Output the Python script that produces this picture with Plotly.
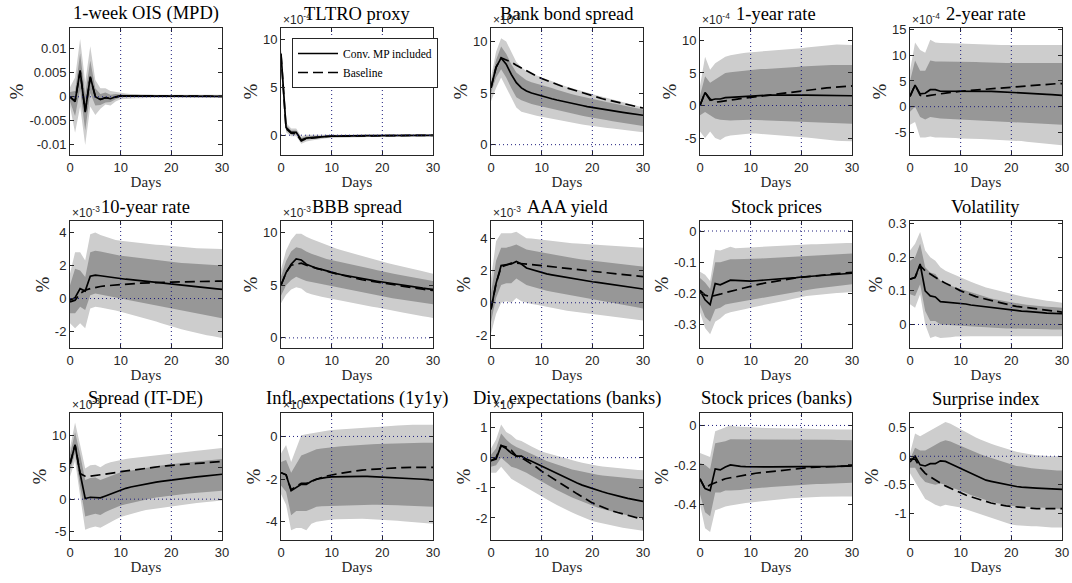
import plotly.graph_objects as go

DAYS = list(range(31))

# ---------------- 1-week OIS (MPD)
ois_irf = [0.0, -0.001, 0.0055, -0.0032, 0.0042, 0.0, -0.0006, -0.0002, -0.0004, 0.0, 0.0002, 0.0002, 0.0002, 0.0002, 0.0002, 0.00015, 0.00015, 0.00015, 0.00012, 0.00012, 0.0001, 0.0001, 0.0001, 0.0001, 0.0001, 0.0001, 0.0001, 0.0001, 0.0001, 0.0001, 0.0001]
ois_base = [0.0, -0.0009, 0.0053, -0.003, 0.004, 0.0001, -0.0005, -0.0002, -0.0003, 0.0, 0.0002, 0.0002, 0.0002, 0.0002, 0.0002, 0.00015, 0.00015, 0.00015, 0.00012, 0.00012, 0.0001, 0.0001, 0.0001, 0.0001, 0.0001, 0.0001, 0.0001, 0.0001, 0.0001, 0.0001, 0.0001]
ois_hi90 = [0.002, 0.004, 0.012, 0.003, 0.0105, 0.0035, 0.0018, 0.0018, 0.0012, 0.001, 0.0008, 0.0007, 0.0006, 0.0006, 0.0005, 0.0005, 0.0005, 0.0004, 0.0004, 0.0004, 0.0004, 0.0004, 0.0004, 0.0004, 0.0004, 0.0004, 0.0004, 0.0004, 0.0004, 0.0004, 0.0004]
ois_lo90 = [-0.002, -0.0075, -0.002, -0.01, -0.002, -0.0038, -0.0025, -0.0016, -0.0018, -0.001, -0.0005, -0.0004, -0.0003, -0.0003, -0.0003, -0.0002, -0.0002, -0.0002, -0.0002, -0.0002, -0.0002, -0.0002, -0.0002, -0.0002, -0.0002, -0.0002, -0.0002, -0.0002, -0.0002, -0.0002, -0.0002]
ois_hi68 = [0.001, 0.0012, 0.009, 0.0005, 0.0075, 0.0018, 0.0006, 0.0009, 0.0004, 0.0006, 0.0005, 0.0004, 0.0004, 0.0004, 0.0003, 0.0003, 0.0003, 0.0003, 0.0003, 0.0003, 0.0003, 0.0002, 0.0002, 0.0002, 0.0002, 0.0002, 0.0002, 0.0002, 0.0002, 0.0002, 0.0002]
ois_lo68 = [-0.001, -0.004, 0.0015, -0.007, 0.0008, -0.0018, -0.0017, -0.0012, -0.0011, -0.0005, -0.0001, 0.0, 0.0, 0.0, 0.0, 0.0, 0.0, 0.0, 0.0, 0.0, 0.0, 0.0, 0.0, 0.0, 0.0, 0.0, 0.0, 0.0, 0.0, 0.0, 0.0]

# ---------------- TLTRO proxy (x1e-4)
tl_irf = [8.5, 0.8, 0.3, 0.3, -0.5, -0.3, -0.25, -0.2, -0.15, -0.12, -0.1, -0.1, -0.08, -0.08, -0.07, -0.06, -0.05, -0.05, -0.04, -0.04, -0.03, -0.03, -0.03, -0.02, -0.02, -0.02, -0.02, -0.01, -0.01, -0.01, -0.01]
tl_base = [8.4, 0.7, 0.2, 0.15, -0.6, -0.35, -0.3, -0.22, -0.17, -0.13, -0.11, -0.1, -0.09, -0.08, -0.07, -0.06, -0.05, -0.05, -0.04, -0.04, -0.03, -0.03, -0.03, -0.02, -0.02, -0.02, -0.02, -0.01, -0.01, -0.01, -0.01]
tl_hi90 = [9.0, 1.3, 0.7, 0.7, -0.1, 0.05, 0.05, 0.05, 0.08, 0.08, 0.1, 0.1, 0.1, 0.1, 0.1, 0.1, 0.1, 0.1, 0.1, 0.1, 0.1, 0.1, 0.1, 0.1, 0.1, 0.1, 0.1, 0.1, 0.1, 0.1, 0.1]
tl_lo90 = [8.0, 0.3, -0.1, -0.1, -0.9, -0.65, -0.55, -0.45, -0.38, -0.32, -0.3, -0.28, -0.26, -0.24, -0.22, -0.2, -0.19, -0.18, -0.17, -0.16, -0.15, -0.14, -0.14, -0.13, -0.13, -0.12, -0.12, -0.12, -0.11, -0.11, -0.11]
tl_hi68 = [8.8, 1.05, 0.5, 0.5, -0.3, -0.12, -0.1, -0.08, -0.04, -0.03, -0.02, -0.02, -0.01, -0.01, 0.0, 0.0, 0.0, 0.0, 0.0, 0.0, 0.0, 0.0, 0.0, 0.01, 0.01, 0.01, 0.01, 0.02, 0.02, 0.02, 0.02]
tl_lo68 = [8.2, 0.55, 0.1, 0.1, -0.7, -0.48, -0.4, -0.32, -0.26, -0.21, -0.18, -0.17, -0.15, -0.14, -0.13, -0.12, -0.1, -0.1, -0.09, -0.08, -0.07, -0.06, -0.06, -0.05, -0.05, -0.05, -0.05, -0.04, -0.04, -0.04, -0.04]

# ---------------- Bank bond spread (x1e-3)
bb_irf = [5.5, 7.5, 8.4, 7.8, 6.8, 6.0, 5.5, 5.2, 5.0, 4.85, 4.7, 4.57, 4.45, 4.33, 4.21, 4.1, 3.99, 3.89, 3.79, 3.69, 3.6, 3.51, 3.43, 3.35, 3.27, 3.2, 3.13, 3.06, 2.99, 2.92, 2.85]
bb_base = [5.5, 7.5, 8.4, 8.2, 8.0, 7.7, 7.42, 7.15, 6.88, 6.63, 6.4, 6.2, 6.01, 5.83, 5.66, 5.5, 5.34, 5.18, 5.02, 4.86, 4.7, 4.57, 4.45, 4.33, 4.22, 4.1, 3.99, 3.88, 3.77, 3.66, 3.55]
bb_hi90 = [6.5, 9.0, 10.3, 10.0, 9.0, 8.0, 7.5, 7.1, 6.9, 6.7, 6.5, 6.31, 6.13, 5.95, 5.77, 5.6, 5.45, 5.31, 5.17, 5.03, 4.9, 4.77, 4.64, 4.51, 4.38, 4.25, 4.12, 3.99, 3.86, 3.73, 3.6]
bb_lo90 = [4.2, 5.5, 6.5, 5.5, 4.5, 3.6, 3.2, 3.05, 2.9, 2.8, 2.7, 2.6, 2.5, 2.4, 2.3, 2.2, 2.12, 2.04, 1.96, 1.88, 1.8, 1.74, 1.68, 1.62, 1.56, 1.5, 1.44, 1.38, 1.32, 1.26, 1.2]
bb_hi68 = [6.0, 8.2, 9.5, 8.8, 7.8, 7.0, 6.6, 6.25, 6.05, 5.92, 5.8, 5.64, 5.48, 5.32, 5.16, 5.0, 4.88, 4.76, 4.64, 4.52, 4.4, 4.3, 4.2, 4.1, 4.0, 3.9, 3.8, 3.7, 3.6, 3.5, 3.4]
bb_lo68 = [5.0, 6.5, 7.3, 6.5, 5.5, 4.6, 4.3, 4.1, 3.95, 3.82, 3.7, 3.58, 3.46, 3.34, 3.22, 3.1, 3.0, 2.9, 2.8, 2.7, 2.6, 2.52, 2.44, 2.36, 2.28, 2.2, 2.12, 2.04, 1.96, 1.88, 1.8]

# ---------------- 1-year rate (x1e-4)
y1_irf = [0.0, 2.0, 0.8, 1.0, 1.0, 1.2, 1.25, 1.3, 1.38, 1.45, 1.5, 1.52, 1.55, 1.57, 1.58, 1.6, 1.6, 1.61, 1.61, 1.6, 1.6, 1.6, 1.59, 1.58, 1.57, 1.56, 1.55, 1.54, 1.53, 1.51, 1.5]
y1_base = [0.0, 2.0, 1.0, 0.5, 0.6, 0.75, 0.85, 0.95, 1.05, 1.15, 1.3, 1.4, 1.5, 1.6, 1.7, 1.8, 1.9, 2.0, 2.1, 2.2, 2.3, 2.38, 2.46, 2.54, 2.62, 2.7, 2.76, 2.82, 2.88, 2.94, 3.0]
y1_hi90 = [3.0, 7.5, 5.5, 6.5, 7.0, 7.5, 7.7, 7.9, 8.0, 8.1, 8.2, 8.25, 8.3, 8.35, 8.4, 8.5, 8.55, 8.6, 8.65, 8.7, 8.8, 8.9, 9.0, 9.1, 9.2, 9.3, 9.3, 9.35, 9.35, 9.3, 9.3]
y1_lo90 = [-4.0, -5.0, -4.0, -5.0, -5.3, -4.8, -4.6, -4.5, -4.4, -4.35, -4.3, -4.3, -4.35, -4.4, -4.45, -4.5, -4.55, -4.6, -4.65, -4.7, -4.8, -4.9, -5.0, -5.1, -5.2, -5.3, -5.35, -5.4, -5.45, -5.5, -5.5]
y1_hi68 = [1.5, 4.5, 3.5, 4.0, 4.6, 5.0, 5.1, 5.2, 5.3, 5.4, 5.5, 5.55, 5.6, 5.62, 5.65, 5.7, 5.75, 5.8, 5.85, 5.9, 6.0, 6.05, 6.1, 6.12, 6.15, 6.2, 6.2, 6.2, 6.2, 6.2, 6.2]
y1_lo68 = [-1.5, -1.0, -1.5, -2.0, -2.2, -2.3, -2.3, -2.25, -2.2, -2.2, -2.2, -2.22, -2.25, -2.28, -2.3, -2.33, -2.36, -2.4, -2.43, -2.46, -2.5, -2.53, -2.56, -2.6, -2.63, -2.66, -2.7, -2.73, -2.76, -2.78, -2.8]

# ---------------- 2-year rate (x1e-4)
y2_irf = [2.0, 4.2, 2.5, 2.6, 3.3, 3.3, 3.0, 3.0, 3.05, 3.1, 3.1, 3.1, 3.08, 3.06, 3.03, 3.0, 2.97, 2.94, 2.9, 2.86, 2.8, 2.75, 2.7, 2.65, 2.58, 2.5, 2.45, 2.4, 2.33, 2.27, 2.2]
y2_base = [2.0, 4.2, 2.2, 2.0, 2.2, 2.4, 2.5, 2.65, 2.8, 2.9, 3.0, 3.08, 3.16, 3.24, 3.32, 3.4, 3.5, 3.6, 3.7, 3.8, 3.9, 3.98, 4.06, 4.14, 4.22, 4.3, 4.35, 4.4, 4.44, 4.48, 4.5]
y2_hi90 = [7.0, 12.5, 11.0, 10.5, 13.0, 12.5, 12.4, 12.4, 12.3, 12.3, 12.3, 12.25, 12.2, 12.2, 12.15, 12.1, 12.1, 12.05, 12.0, 12.0, 12.0, 12.0, 12.0, 12.0, 12.0, 12.0, 12.0, 12.0, 12.0, 12.0, 12.0]
y2_lo90 = [-3.5, -3.0, -6.0, -6.0, -5.8, -6.0, -6.0, -6.0, -6.1, -6.1, -6.2, -6.2, -6.25, -6.3, -6.3, -6.35, -6.4, -6.4, -6.45, -6.5, -6.5, -6.6, -6.7, -6.8, -6.9, -7.0, -7.1, -7.2, -7.3, -7.4, -7.5]
y2_hi68 = [5.0, 9.0, 7.0, 7.0, 9.0, 8.8, 8.8, 8.8, 8.8, 8.8, 8.8, 8.75, 8.7, 8.7, 8.65, 8.6, 8.6, 8.6, 8.55, 8.5, 8.5, 8.5, 8.5, 8.5, 8.5, 8.5, 8.5, 8.5, 8.5, 8.5, 8.5]
y2_lo68 = [-1.0, 0.0, -2.0, -2.5, -2.0, -2.2, -2.3, -2.35, -2.4, -2.45, -2.5, -2.55, -2.6, -2.65, -2.7, -2.75, -2.8, -2.85, -2.9, -2.95, -3.0, -3.05, -3.1, -3.15, -3.2, -3.25, -3.3, -3.35, -3.4, -3.45, -3.5]

# ---------------- 10-year rate (x1e-3)
y10_irf = [-0.1, 0.05, 0.6, 0.45, 1.35, 1.42, 1.38, 1.33, 1.28, 1.24, 1.2, 1.17, 1.14, 1.11, 1.08, 1.05, 1.02, 0.99, 0.96, 0.93, 0.9, 0.87, 0.84, 0.81, 0.78, 0.75, 0.71, 0.67, 0.63, 0.59, 0.55]
y10_base = [-0.2, -0.1, 0.3, 0.5, 0.6, 0.68, 0.73, 0.77, 0.8, 0.83, 0.85, 0.87, 0.89, 0.91, 0.93, 0.95, 0.96, 0.97, 0.98, 0.99, 1.0, 1.01, 1.02, 1.03, 1.04, 1.05, 1.05, 1.05, 1.05, 1.05, 1.05]
y10_hi90 = [1.5, 2.8, 2.8, 2.3, 3.9, 4.0, 3.85, 3.75, 3.65, 3.55, 3.5, 3.46, 3.42, 3.38, 3.34, 3.3, 3.28, 3.26, 3.24, 3.22, 3.2, 3.17, 3.14, 3.11, 3.08, 3.05, 3.04, 3.03, 3.02, 3.01, 3.0]
y10_lo90 = [-1.5, -1.8, -1.5, -1.8, -0.6, -0.5, -0.55, -0.6, -0.65, -0.72, -0.8, -0.88, -0.96, -1.04, -1.12, -1.2, -1.3, -1.4, -1.5, -1.6, -1.7, -1.78, -1.86, -1.94, -2.02, -2.1, -2.16, -2.22, -2.28, -2.34, -2.4]
y10_hi68 = [0.8, 1.8, 1.7, 1.3, 2.8, 2.9, 2.85, 2.78, 2.7, 2.65, 2.6, 2.56, 2.52, 2.48, 2.44, 2.4, 2.36, 2.32, 2.28, 2.24, 2.2, 2.18, 2.16, 2.14, 2.12, 2.1, 2.08, 2.06, 2.04, 2.02, 2.0]
y10_lo68 = [-0.9, -0.9, -0.5, -0.7, 0.2, 0.3, 0.25, 0.18, 0.12, 0.06, 0.0, -0.06, -0.12, -0.18, -0.24, -0.3, -0.36, -0.42, -0.48, -0.54, -0.6, -0.66, -0.72, -0.78, -0.84, -0.9, -0.96, -1.02, -1.08, -1.14, -1.2]

# ---------------- BBB spread (x1e-3)
bbb_irf = [5.0, 6.2, 7.0, 7.5, 7.4, 7.0, 6.8, 6.6, 6.5, 6.35, 6.2, 6.1, 6.0, 5.9, 5.8, 5.7, 5.62, 5.54, 5.46, 5.38, 5.3, 5.22, 5.14, 5.06, 4.98, 4.9, 4.84, 4.78, 4.72, 4.66, 4.6]
bbb_base = [5.0, 6.2, 6.9, 7.0, 7.1, 6.9, 6.75, 6.6, 6.45, 6.32, 6.2, 6.08, 5.96, 5.84, 5.72, 5.6, 5.52, 5.44, 5.36, 5.28, 5.2, 5.12, 5.04, 4.96, 4.88, 4.8, 4.74, 4.68, 4.62, 4.56, 4.5]
bbb_hi90 = [6.5, 8.3, 9.3, 9.9, 9.9, 9.6, 9.4, 9.2, 9.0, 8.8, 8.6, 8.46, 8.32, 8.18, 8.04, 7.9, 7.76, 7.62, 7.48, 7.34, 7.2, 7.1, 7.0, 6.9, 6.8, 6.7, 6.58, 6.46, 6.34, 6.22, 6.1]
bbb_lo90 = [3.3, 4.1, 4.6, 4.8, 4.7, 4.3, 4.15, 4.0, 3.9, 3.8, 3.7, 3.6, 3.5, 3.4, 3.3, 3.2, 3.12, 3.04, 2.96, 2.88, 2.8, 2.7, 2.6, 2.5, 2.4, 2.3, 2.22, 2.14, 2.06, 1.98, 1.9]
bbb_hi68 = [5.8, 7.3, 8.2, 8.6, 8.5, 8.2, 8.0, 7.8, 7.65, 7.5, 7.4, 7.3, 7.2, 7.1, 7.0, 6.9, 6.78, 6.66, 6.54, 6.42, 6.3, 6.21, 6.12, 6.03, 5.94, 5.85, 5.76, 5.67, 5.58, 5.49, 5.4]
bbb_lo68 = [4.0, 5.0, 5.5, 5.8, 5.6, 5.4, 5.3, 5.2, 5.1, 5.0, 4.9, 4.8, 4.7, 4.6, 4.5, 4.4, 4.3, 4.2, 4.1, 4.0, 3.9, 3.83, 3.76, 3.69, 3.62, 3.55, 3.48, 3.41, 3.34, 3.27, 3.2]

# ---------------- AAA yield (x1e-3)
aaa_irf = [-0.4, 1.2, 2.3, 2.35, 2.4, 2.55, 2.4, 2.15, 2.05, 1.95, 1.85, 1.79, 1.73, 1.67, 1.61, 1.55, 1.5, 1.45, 1.4, 1.35, 1.3, 1.26, 1.22, 1.18, 1.14, 1.1, 1.05, 1.0, 0.95, 0.9, 0.85]
aaa_base = [-0.4, 1.2, 2.2, 2.35, 2.45, 2.45, 2.43, 2.4, 2.37, 2.33, 2.3, 2.27, 2.24, 2.21, 2.18, 2.15, 2.11, 2.07, 2.03, 1.99, 1.95, 1.92, 1.89, 1.86, 1.83, 1.8, 1.76, 1.72, 1.69, 1.65, 1.62]
aaa_hi90 = [1.5, 3.8, 4.3, 4.3, 4.3, 4.4, 4.2, 4.0, 3.97, 3.93, 3.9, 3.86, 3.82, 3.78, 3.74, 3.7, 3.68, 3.66, 3.64, 3.62, 3.6, 3.58, 3.56, 3.54, 3.52, 3.5, 3.48, 3.46, 3.44, 3.42, 3.4]
aaa_lo90 = [-1.9, -0.7, 0.0, 0.1, 0.0, 0.3, 0.1, 0.0, -0.07, -0.13, -0.2, -0.26, -0.32, -0.38, -0.44, -0.5, -0.54, -0.58, -0.62, -0.66, -0.7, -0.74, -0.78, -0.82, -0.86, -0.9, -0.94, -0.98, -1.02, -1.06, -1.1]
aaa_hi68 = [0.6, 2.6, 3.4, 3.4, 3.5, 3.6, 3.45, 3.3, 3.23, 3.17, 3.1, 3.04, 2.98, 2.92, 2.86, 2.8, 2.76, 2.72, 2.68, 2.64, 2.6, 2.56, 2.52, 2.48, 2.44, 2.4, 2.37, 2.34, 2.31, 2.28, 2.25]
aaa_lo68 = [-1.2, 0.3, 1.1, 1.2, 1.2, 1.5, 1.3, 1.1, 1.0, 0.9, 0.8, 0.74, 0.68, 0.62, 0.56, 0.5, 0.44, 0.38, 0.32, 0.26, 0.2, 0.14, 0.08, 0.02, -0.04, -0.1, -0.15, -0.2, -0.25, -0.3, -0.35]

# ---------------- Stock prices
sp_irf = [-0.19, -0.22, -0.235, -0.168, -0.172, -0.165, -0.157, -0.158, -0.159, -0.16, -0.16, -0.159, -0.158, -0.157, -0.156, -0.155, -0.153, -0.152, -0.15, -0.149, -0.147, -0.146, -0.145, -0.143, -0.142, -0.141, -0.14, -0.139, -0.137, -0.136, -0.135]
sp_base = [-0.19, -0.205, -0.21, -0.207, -0.202, -0.197, -0.193, -0.188, -0.184, -0.179, -0.175, -0.172, -0.169, -0.166, -0.163, -0.16, -0.158, -0.155, -0.153, -0.15, -0.148, -0.146, -0.144, -0.142, -0.141, -0.14, -0.138, -0.136, -0.135, -0.133, -0.132]
sp_hi90 = [-0.13, -0.14, -0.16, -0.06, -0.062, -0.055, -0.05, -0.055, -0.054, -0.053, -0.052, -0.051, -0.05, -0.05, -0.049, -0.048, -0.047, -0.046, -0.046, -0.045, -0.044, -0.043, -0.042, -0.042, -0.041, -0.04, -0.04, -0.039, -0.039, -0.038, -0.038]
sp_lo90 = [-0.26, -0.31, -0.33, -0.29, -0.28, -0.265, -0.26, -0.257, -0.253, -0.249, -0.245, -0.242, -0.239, -0.236, -0.233, -0.23, -0.226, -0.222, -0.218, -0.214, -0.21, -0.208, -0.206, -0.204, -0.202, -0.2, -0.199, -0.198, -0.197, -0.196, -0.195]
sp_hi68 = [-0.15, -0.165, -0.185, -0.1, -0.1, -0.095, -0.09, -0.09, -0.09, -0.09, -0.09, -0.089, -0.088, -0.087, -0.086, -0.085, -0.084, -0.083, -0.082, -0.081, -0.08, -0.079, -0.078, -0.077, -0.076, -0.075, -0.075, -0.074, -0.073, -0.073, -0.072]
sp_lo68 = [-0.235, -0.275, -0.29, -0.25, -0.245, -0.235, -0.232, -0.229, -0.226, -0.223, -0.22, -0.217, -0.214, -0.211, -0.208, -0.205, -0.202, -0.199, -0.196, -0.193, -0.19, -0.188, -0.186, -0.184, -0.182, -0.18, -0.178, -0.176, -0.174, -0.172, -0.17]

# ---------------- Volatility
vol_irf = [0.135, 0.14, 0.18, 0.1, 0.085, 0.082, 0.068, 0.067, 0.066, 0.064, 0.063, 0.061, 0.058, 0.056, 0.054, 0.052, 0.05, 0.048, 0.046, 0.044, 0.042, 0.041, 0.04, 0.039, 0.037, 0.036, 0.035, 0.034, 0.033, 0.033, 0.032]
vol_base = [0.135, 0.14, 0.175, 0.16, 0.15, 0.14, 0.131, 0.123, 0.115, 0.107, 0.1, 0.094, 0.088, 0.083, 0.079, 0.075, 0.071, 0.067, 0.063, 0.06, 0.057, 0.054, 0.052, 0.049, 0.047, 0.045, 0.043, 0.041, 0.039, 0.038, 0.037]
vol_hi90 = [0.22, 0.24, 0.275, 0.22, 0.2, 0.19, 0.17, 0.16, 0.153, 0.146, 0.14, 0.133, 0.127, 0.121, 0.115, 0.11, 0.106, 0.102, 0.098, 0.094, 0.09, 0.087, 0.084, 0.081, 0.078, 0.075, 0.073, 0.071, 0.069, 0.067, 0.065]
vol_lo90 = [0.06, 0.05, 0.09, 0.0, -0.04, -0.035, -0.04, -0.04, -0.038, -0.036, -0.035, -0.035, -0.035, -0.035, -0.035, -0.035, -0.034, -0.034, -0.034, -0.033, -0.033, -0.033, -0.033, -0.033, -0.033, -0.033, -0.034, -0.034, -0.034, -0.035, -0.035]
vol_hi68 = [0.19, 0.2, 0.24, 0.17, 0.155, 0.15, 0.13, 0.12, 0.115, 0.11, 0.105, 0.1, 0.095, 0.09, 0.085, 0.08, 0.077, 0.074, 0.071, 0.068, 0.065, 0.063, 0.061, 0.059, 0.057, 0.055, 0.054, 0.053, 0.052, 0.051, 0.05]
vol_lo68 = [0.09, 0.085, 0.12, 0.04, 0.01, 0.01, 0.0, -0.001, -0.002, -0.004, -0.005, -0.006, -0.007, -0.008, -0.009, -0.01, -0.01, -0.011, -0.011, -0.012, -0.012, -0.012, -0.013, -0.013, -0.013, -0.014, -0.014, -0.014, -0.015, -0.015, -0.015]

# ---------------- Spread (IT-DE) (x1e-3)
itde_irf = [5.5, 8.5, 4.0, 0.1, 0.3, 0.3, 0.2, 0.5, 0.8, 1.15, 1.5, 1.7, 1.9, 2.07, 2.24, 2.4, 2.53, 2.66, 2.78, 2.9, 3.0, 3.1, 3.2, 3.3, 3.4, 3.5, 3.58, 3.66, 3.74, 3.82, 3.9]
itde_base = [5.5, 8.5, 4.0, 3.6, 3.6, 3.7, 3.75, 3.85, 4.0, 4.15, 4.3, 4.42, 4.54, 4.66, 4.78, 4.9, 4.98, 5.06, 5.14, 5.22, 5.3, 5.36, 5.42, 5.48, 5.54, 5.6, 5.66, 5.72, 5.78, 5.84, 5.9]
itde_hi90 = [8.0, 12.0, 8.5, 4.8, 5.3, 5.4, 5.0, 5.5, 5.8, 6.0, 6.2, 6.3, 6.4, 6.5, 6.6, 6.7, 6.8, 6.9, 7.0, 7.1, 7.2, 7.28, 7.36, 7.44, 7.52, 7.6, 7.68, 7.76, 7.84, 7.92, 8.0]
itde_lo90 = [3.5, 6.0, 0.5, -4.8, -4.5, -4.3, -4.5, -4.0, -3.6, -3.2, -2.8, -2.55, -2.3, -2.1, -1.9, -1.7, -1.58, -1.46, -1.34, -1.22, -1.1, -1.0, -0.9, -0.8, -0.7, -0.6, -0.52, -0.44, -0.36, -0.28, -0.2]
itde_hi68 = [7.0, 10.5, 7.0, 3.0, 3.3, 3.4, 3.0, 3.3, 3.6, 3.9, 4.2, 4.35, 4.5, 4.65, 4.8, 4.9, 5.02, 5.14, 5.26, 5.38, 5.5, 5.58, 5.66, 5.74, 5.82, 5.9, 5.98, 6.06, 6.14, 6.22, 6.3]
itde_lo68 = [4.5, 7.2, 2.0, -2.7, -2.5, -2.3, -2.5, -2.0, -1.65, -1.3, -1.0, -0.8, -0.6, -0.4, -0.2, 0.0, 0.12, 0.24, 0.36, 0.48, 0.6, 0.68, 0.76, 0.84, 0.92, 1.0, 1.06, 1.12, 1.18, 1.24, 1.3]

# ---------------- Infl. expectations (1y1y) (x1e-3)
inf_irf = [-1.7, -1.8, -2.55, -2.4, -2.25, -2.25, -2.1, -2.0, -1.95, -1.92, -1.9, -1.89, -1.88, -1.88, -1.87, -1.87, -1.87, -1.87, -1.88, -1.89, -1.9, -1.91, -1.92, -1.93, -1.94, -1.95, -1.97, -1.99, -2.01, -2.03, -2.05]
inf_base = [-1.7, -1.8, -2.5, -2.35, -2.2, -2.2, -2.1, -2.0, -1.93, -1.86, -1.8, -1.76, -1.72, -1.68, -1.64, -1.6, -1.58, -1.56, -1.54, -1.52, -1.5, -1.49, -1.48, -1.47, -1.46, -1.45, -1.45, -1.45, -1.45, -1.45, -1.45]
inf_hi90 = [-0.8, -0.4, -1.2, -0.6, 0.05, 0.1, 0.15, 0.2, 0.23, 0.27, 0.3, 0.32, 0.34, 0.36, 0.38, 0.4, 0.41, 0.42, 0.43, 0.44, 0.45, 0.47, 0.49, 0.51, 0.53, 0.55, 0.55, 0.55, 0.55, 0.55, 0.55]
inf_lo90 = [-2.7, -3.2, -4.4, -4.3, -4.3, -4.4, -4.1, -4.0, -3.97, -3.93, -3.9, -3.89, -3.88, -3.87, -3.86, -3.85, -3.86, -3.87, -3.88, -3.89, -3.9, -3.92, -3.94, -3.96, -3.98, -4.0, -4.02, -4.04, -4.06, -4.08, -4.1]
inf_hi68 = [-1.2, -1.1, -1.7, -1.3, -0.9, -0.8, -0.7, -0.6, -0.57, -0.53, -0.5, -0.48, -0.46, -0.44, -0.42, -0.4, -0.39, -0.38, -0.37, -0.36, -0.35, -0.34, -0.33, -0.32, -0.31, -0.3, -0.3, -0.3, -0.3, -0.3, -0.3]
inf_lo68 = [-2.3, -2.6, -3.7, -3.5, -3.5, -3.5, -3.4, -3.3, -3.28, -3.27, -3.25, -3.24, -3.23, -3.22, -3.21, -3.2, -3.2, -3.2, -3.2, -3.2, -3.2, -3.21, -3.22, -3.23, -3.24, -3.25, -3.26, -3.27, -3.28, -3.29, -3.3]

# ---------------- Div. expectations (banks) (x1e-1)
div_irf = [-0.1, -0.05, 0.4, 0.3, 0.15, 0.05, 0.05, -0.05, -0.12, -0.2, -0.3, -0.38, -0.46, -0.54, -0.62, -0.7, -0.77, -0.84, -0.91, -0.97, -1.03, -1.08, -1.13, -1.18, -1.23, -1.27, -1.31, -1.35, -1.39, -1.42, -1.45]
div_base = [-0.1, 0.0, 0.4, 0.35, 0.25, 0.05, 0.0, -0.1, -0.2, -0.32, -0.45, -0.56, -0.67, -0.78, -0.89, -1.0, -1.1, -1.2, -1.3, -1.4, -1.5, -1.57, -1.64, -1.71, -1.77, -1.82, -1.87, -1.92, -1.96, -2.0, -2.03]
div_hi90 = [0.3, 0.6, 1.1, 0.85, 0.75, 0.6, 0.55, 0.45, 0.37, 0.29, 0.2, 0.15, 0.1, 0.05, 0.0, -0.05, -0.09, -0.13, -0.17, -0.21, -0.25, -0.27, -0.29, -0.31, -0.33, -0.35, -0.36, -0.38, -0.39, -0.41, -0.42]
div_lo90 = [-0.5, -0.5, -0.3, -0.5, -0.7, -0.8, -0.9, -1.0, -1.1, -1.2, -1.3, -1.39, -1.48, -1.57, -1.66, -1.75, -1.82, -1.89, -1.96, -2.03, -2.1, -2.14, -2.18, -2.22, -2.26, -2.3, -2.32, -2.35, -2.37, -2.4, -2.42]
div_hi68 = [0.1, 0.3, 0.8, 0.6, 0.45, 0.35, 0.28, 0.2, 0.12, 0.04, -0.05, -0.11, -0.17, -0.23, -0.29, -0.35, -0.39, -0.43, -0.47, -0.51, -0.55, -0.57, -0.59, -0.61, -0.63, -0.65, -0.66, -0.68, -0.69, -0.71, -0.72]
div_lo68 = [-0.3, -0.25, 0.0, -0.15, -0.3, -0.35, -0.42, -0.5, -0.6, -0.7, -0.8, -0.89, -0.98, -1.07, -1.16, -1.25, -1.32, -1.39, -1.46, -1.53, -1.6, -1.65, -1.7, -1.75, -1.8, -1.85, -1.88, -1.91, -1.94, -1.97, -2.0]

# ---------------- Stock prices (banks)
sb_irf = [-0.27, -0.32, -0.33, -0.22, -0.225, -0.21, -0.2, -0.205, -0.207, -0.209, -0.21, -0.21, -0.21, -0.21, -0.21, -0.21, -0.21, -0.21, -0.21, -0.21, -0.21, -0.21, -0.21, -0.209, -0.209, -0.208, -0.208, -0.207, -0.206, -0.206, -0.205]
sb_base = [-0.27, -0.32, -0.3, -0.29, -0.28, -0.27, -0.265, -0.26, -0.255, -0.25, -0.245, -0.242, -0.239, -0.236, -0.233, -0.23, -0.227, -0.224, -0.221, -0.218, -0.215, -0.213, -0.212, -0.211, -0.21, -0.209, -0.208, -0.207, -0.206, -0.206, -0.205]
sb_hi90 = [-0.14, -0.15, -0.16, -0.03, -0.02, -0.01, 0.0, -0.005, -0.007, -0.009, -0.01, -0.011, -0.012, -0.013, -0.014, -0.015, -0.015, -0.015, -0.015, -0.015, -0.015, -0.016, -0.017, -0.018, -0.019, -0.02, -0.02, -0.02, -0.02, -0.02, -0.02]
sb_lo90 = [-0.4, -0.52, -0.54, -0.43, -0.42, -0.41, -0.405, -0.4, -0.397, -0.393, -0.39, -0.387, -0.384, -0.381, -0.378, -0.375, -0.373, -0.371, -0.369, -0.367, -0.365, -0.364, -0.363, -0.362, -0.361, -0.36, -0.36, -0.36, -0.36, -0.36, -0.36]
sb_hi68 = [-0.19, -0.2, -0.22, -0.09, -0.085, -0.08, -0.07, -0.07, -0.07, -0.07, -0.07, -0.07, -0.07, -0.07, -0.07, -0.07, -0.07, -0.07, -0.07, -0.07, -0.07, -0.071, -0.071, -0.072, -0.072, -0.073, -0.073, -0.074, -0.074, -0.075, -0.075]
sb_lo68 = [-0.35, -0.44, -0.46, -0.34, -0.34, -0.33, -0.33, -0.33, -0.327, -0.323, -0.32, -0.318, -0.316, -0.314, -0.312, -0.31, -0.308, -0.306, -0.304, -0.302, -0.3, -0.299, -0.298, -0.297, -0.296, -0.295, -0.294, -0.293, -0.292, -0.291, -0.29]

# ---------------- Surprise index
si_irf = [-0.1, 0.0, -0.15, -0.17, -0.13, -0.13, -0.08, -0.09, -0.13, -0.17, -0.22, -0.26, -0.3, -0.34, -0.38, -0.42, -0.44, -0.46, -0.48, -0.5, -0.52, -0.53, -0.54, -0.55, -0.555, -0.56, -0.565, -0.57, -0.575, -0.578, -0.58]
si_base = [-0.05, -0.05, -0.2, -0.3, -0.36, -0.42, -0.47, -0.52, -0.56, -0.61, -0.65, -0.68, -0.71, -0.74, -0.77, -0.8, -0.82, -0.84, -0.86, -0.87, -0.88, -0.89, -0.9, -0.91, -0.915, -0.92, -0.92, -0.92, -0.92, -0.92, -0.92]
si_hi90 = [0.05, 0.4, 0.35, 0.4, 0.45, 0.5, 0.55, 0.6, 0.57, 0.52, 0.48, 0.43, 0.38, 0.33, 0.29, 0.25, 0.22, 0.19, 0.16, 0.13, 0.1, 0.08, 0.06, 0.04, 0.03, 0.02, 0.01, 0.0, 0.0, 0.0, 0.0]
si_lo90 = [-0.3, -0.45, -0.6, -0.75, -0.8, -0.85, -0.88, -0.85, -0.87, -0.88, -0.9, -0.93, -0.96, -0.99, -1.02, -1.05, -1.08, -1.11, -1.14, -1.17, -1.2, -1.21, -1.22, -1.22, -1.23, -1.23, -1.24, -1.24, -1.25, -1.25, -1.25]
si_hi68 = [-0.05, 0.15, 0.1, 0.1, 0.15, 0.2, 0.25, 0.28, 0.26, 0.22, 0.18, 0.14, 0.1, 0.07, 0.03, 0.0, -0.03, -0.06, -0.09, -0.12, -0.15, -0.17, -0.18, -0.2, -0.21, -0.22, -0.23, -0.24, -0.24, -0.25, -0.25]
si_lo68 = [-0.2, -0.2, -0.35, -0.45, -0.48, -0.5, -0.48, -0.5, -0.54, -0.57, -0.6, -0.64, -0.68, -0.71, -0.75, -0.78, -0.8, -0.82, -0.84, -0.86, -0.87, -0.88, -0.88, -0.89, -0.89, -0.9, -0.9, -0.91, -0.91, -0.92, -0.92]

TITLES = ["1-week OIS (MPD)", "TLTRO proxy", "Bank bond spread", "1-year rate", "2-year rate",
          "10-year rate", "BBB spread", "AAA yield", "Stock prices", "Volatility",
          "Spread (IT-DE)", "Infl. expectations (1y1y)", "Div. expectations (banks)",
          "Stock prices (banks)", "Surprise index"]
EXPONENTS = [None, "-4", "-3", "-4", "-4", "-3", "-3", "-3", None, None, "-3", "-3", "-1", None, None]
SERIES = [
    (ois_irf, ois_base, ois_lo68, ois_hi68, ois_lo90, ois_hi90),
    (tl_irf, tl_base, tl_lo68, tl_hi68, tl_lo90, tl_hi90),
    (bb_irf, bb_base, bb_lo68, bb_hi68, bb_lo90, bb_hi90),
    (y1_irf, y1_base, y1_lo68, y1_hi68, y1_lo90, y1_hi90),
    (y2_irf, y2_base, y2_lo68, y2_hi68, y2_lo90, y2_hi90),
    (y10_irf, y10_base, y10_lo68, y10_hi68, y10_lo90, y10_hi90),
    (bbb_irf, bbb_base, bbb_lo68, bbb_hi68, bbb_lo90, bbb_hi90),
    (aaa_irf, aaa_base, aaa_lo68, aaa_hi68, aaa_lo90, aaa_hi90),
    (sp_irf, sp_base, sp_lo68, sp_hi68, sp_lo90, sp_hi90),
    (vol_irf, vol_base, vol_lo68, vol_hi68, vol_lo90, vol_hi90),
    (itde_irf, itde_base, itde_lo68, itde_hi68, itde_lo90, itde_hi90),
    (inf_irf, inf_base, inf_lo68, inf_hi68, inf_lo90, inf_hi90),
    (div_irf, div_base, div_lo68, div_hi68, div_lo90, div_hi90),
    (sb_irf, sb_base, sb_lo68, sb_hi68, sb_lo90, sb_hi90),
    (si_irf, si_base, si_lo68, si_hi68, si_lo90, si_hi90),
]
Y_RANGES = [[-0.0121, 0.0143], [-2.06, 11.15], [-1.0, 11.3], [-7.6, 11.9], [-9.4, 15.3],
            [-3.0, 4.7], [-0.96, 11.1], [-2.8, 5.06], [-0.374, 0.032], [-0.07, 0.308],
            [-6.4, 13.5], [-4.86, 1.1], [-2.73, 1.48], [-0.58, 0.063], [-1.47, 0.76]]
Y_TICKS = [[-0.01, -0.005, 0, 0.005, 0.01], [0, 5, 10], [0, 5, 10], [-5, 0, 5, 10], [-5, 0, 5, 10, 15],
           [-2, 0, 2, 4], [0, 5, 10], [-2, 0, 2, 4], [-0.3, -0.2, -0.1, 0], [0, 0.1, 0.2, 0.3],
           [-5, 0, 5, 10], [-4, -2, 0], [-2, -1, 0, 1], [-0.4, -0.2, 0], [-1, -0.5, 0, 0.5]]
Y_TICK_LABELS = [["-0.01", "-0.005", "0", "0.005", "0.01"], ["0", "5", "10"], ["0", "5", "10"],
                 ["-5", "0", "5", "10"], ["-5", "0", "5", "10", "15"],
                 ["-2", "0", "2", "4"], ["0", "5", "10"], ["-2", "0", "2", "4"],
                 ["-0.3", "-0.2", "-0.1", "0"], ["0", "0.1", "0.2", "0.3"],
                 ["-5", "0", "5", "10"], ["-4", "-2", "0"], ["-2", "-1", "0", "1"],
                 ["-0.4", "-0.2", "0"], ["-1", "-0.5", "0", "0.5"]]
X_TICKS = [0, 10, 20, 30]
X_TICK_LABELS = ["0", "10", "20", "30"]
REF_DAYS = [10, 20]
LEGEND_NAMES = ["Conv. MP included", "Baseline"]

for s in SERIES:
    for arr in s:
        assert len(arr) == len(DAYS), len(arr)

W, H = 1072, 583
COL_LEFT = [70, 281, 491, 700, 910]
PLOT_W = 152
ROW_TOP = [28, 221, 413]
PLOT_H = 127

LIGHT = "#cdcdcd"
DARK = "#979797"
REFC = "rgb(30,30,125)"
SERIF = "Liberation Serif"
SANS = "Liberation Sans"

fig = go.Figure()
shapes = []
annotations = []
layout_axes = {}

for i in range(15):
    r, c = divmod(i, 5)
    n = "" if i == 0 else str(i + 1)
    xa, ya = "x" + n, "y" + n
    irf, base, lo68, hi68, lo90, hi90 = SERIES[i]
    show = (i == 1)
    fig.add_trace(go.Scatter(x=DAYS, y=lo90, xaxis=xa, yaxis=ya, mode="lines",
                             line=dict(width=0, color=LIGHT), showlegend=False, hoverinfo="skip"))
    fig.add_trace(go.Scatter(x=DAYS, y=hi90, xaxis=xa, yaxis=ya, mode="lines", fill="tonexty",
                             fillcolor=LIGHT, line=dict(width=0, color=LIGHT), showlegend=False, hoverinfo="skip"))
    fig.add_trace(go.Scatter(x=DAYS, y=lo68, xaxis=xa, yaxis=ya, mode="lines",
                             line=dict(width=0, color=DARK), showlegend=False, hoverinfo="skip"))
    fig.add_trace(go.Scatter(x=DAYS, y=hi68, xaxis=xa, yaxis=ya, mode="lines", fill="tonexty",
                             fillcolor=DARK, line=dict(width=0, color=DARK), showlegend=False, hoverinfo="skip"))
    fig.add_trace(go.Scatter(x=DAYS, y=irf, xaxis=xa, yaxis=ya, mode="lines", name=LEGEND_NAMES[0],
                             line=dict(color="black", width=1.7), showlegend=show))
    fig.add_trace(go.Scatter(x=DAYS, y=base, xaxis=xa, yaxis=ya, mode="lines", name=LEGEND_NAMES[1],
                             line=dict(color="black", width=1.7, dash="10px,5px"), showlegend=show))

    for d in REF_DAYS:
        shapes.append(dict(type="line", xref=xa, yref=ya + " domain", x0=d, x1=d, y0=0, y1=1,
                           line=dict(color=REFC, width=1, dash="1px,3px"), layer="above"))
    shapes.append(dict(type="line", xref=xa + " domain", yref=ya, x0=0, x1=1, y0=0, y1=0,
                       line=dict(color=REFC, width=1, dash="1px,3px"), layer="above"))

    x0 = COL_LEFT[c] / W
    x1 = (COL_LEFT[c] + PLOT_W) / W
    y1 = 1 - ROW_TOP[r] / H
    y0 = 1 - (ROW_TOP[r] + PLOT_H) / H
    layout_axes["xaxis" + n] = dict(
        domain=[x0, x1], anchor=ya, range=[0, 30], tickvals=X_TICKS, ticktext=X_TICK_LABELS,
        ticks="inside", ticklen=4, tickcolor="#262626", showline=True, mirror="allticks",
        linecolor="#262626", linewidth=1, showgrid=False, zeroline=False,
        tickfont=dict(family=SANS, size=13, color="#262626"),
        title=dict(text="Days", font=dict(family=SERIF, size=15, color="#262626"), standoff=2),
        automargin=False)
    layout_axes["yaxis" + n] = dict(
        domain=[y0, y1], anchor=xa, range=Y_RANGES[i], tickvals=Y_TICKS[i], ticktext=Y_TICK_LABELS[i],
        ticks="inside", ticklen=4, tickcolor="#262626", showline=True, mirror="allticks",
        linecolor="#262626", linewidth=1, showgrid=False, zeroline=False,
        tickfont=dict(family=SANS, size=13, color="#262626"),
        title=dict(text="%", font=dict(family=SERIF, size=19, color="#262626"), standoff=0),
        automargin=False)

    annotations.append(dict(text=TITLES[i], xref="paper", yref="paper", x=(x0 + x1) / 2, y=y1,
                            xanchor="center", yanchor="bottom", yshift=2, showarrow=False,
                            font=dict(family=SERIF, size=18.5, color="black")))
    if EXPONENTS[i]:
        annotations.append(dict(text="\u00d710<sup>" + EXPONENTS[i] + "</sup>", xref="paper", yref="paper",
                                x=x0, y=y1, xanchor="left", yanchor="bottom", yshift=-1, showarrow=False,
                                font=dict(family=SANS, size=12, color="#262626")))

fig.update_layout(
    width=W, height=H, margin=dict(l=0, r=0, t=0, b=0),
    paper_bgcolor="white", plot_bgcolor="white",
    shapes=shapes, annotations=annotations,
    legend=dict(x=292 / W, y=1 - 38 / H, xanchor="left", yanchor="top", bgcolor="white",
                bordercolor="#262626", borderwidth=1, font=dict(family=SERIF, size=11.5, color="black"),
                tracegroupgap=0, itemwidth=40, traceorder="normal"),
    **layout_axes,
)
fig.write_html("out.html", config={"displayModeBar": False},
               post_script="document.body.style.margin='0';document.documentElement.style.overflow='hidden';")
